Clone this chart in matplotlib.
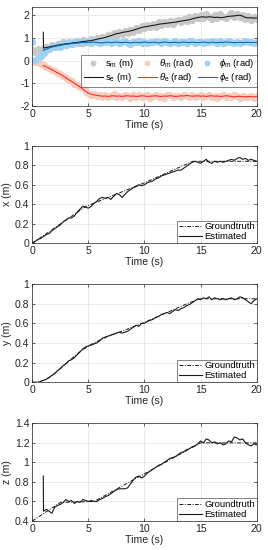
import numpy as np
import matplotlib
matplotlib.use("Agg")
import matplotlib.pyplot as plt
from matplotlib.ticker import FuncFormatter

plt.rcParams['font.family'] = ['Liberation Sans', 'DejaVu Sans']
plt.rcParams['mathtext.fontset'] = 'custom'
plt.rcParams['mathtext.rm'] = 'Liberation Sans'
plt.rcParams['mathtext.it'] = 'Liberation Sans:italic'

# ---------------- data ----------------
# measurement time grid (0..20 s, 0.25 s) and estimate time grid (spike at 0.98, then 1..20 s)
t_meas = np.arange(0, 20.001, 0.25)
t_est = np.r_[0.98, np.arange(1.0, 20.001, 0.25)]

s_m = [0.45, 0.38, 0.5, 0.42, 0.55,
       0.62, 0.52, 0.7, 0.6,
       0.75, 0.64, 0.8, 0.68,
       0.84, 0.72, 0.82, 0.88,
       0.78, 0.92, 0.86, 0.8,
       0.95, 0.86, 0.98, 0.9,
       1.05, 0.95, 1.12, 1.04,
       1.2, 1.1, 1.26, 1.16,
       1.32, 1.22, 1.36, 1.28,
       1.45, 1.35, 1.52, 1.44,
       1.58, 1.46, 1.6, 1.5,
       1.68, 1.56, 1.72, 1.62,
       1.76, 1.62, 1.74, 1.8,
       1.68, 1.85, 1.74, 1.9,
       1.8, 1.98, 1.86, 2.02,
       1.88, 2.05, 1.9, 1.84,
       2.0, 1.86, 2.04, 1.94,
       1.86, 2.02, 2.08, 1.94,
       2.06, 1.92, 2.0, 1.84,
       1.98, 1.8, 1.92, 1.82]

theta_m = [0.0, -0.05, -0.08, -0.14, -0.2,
           -0.3, -0.32, -0.42, -0.46,
           -0.56, -0.6, -0.7, -0.75,
           -0.86, -0.9, -1.02, -1.06,
           -1.18, -1.22, -1.36, -1.42,
           -1.5, -1.48, -1.58, -1.52,
           -1.62, -1.5, -1.6, -1.54,
           -1.48, -1.62, -1.55, -1.6,
           -1.5, -1.58, -1.64, -1.52,
           -1.6, -1.5, -1.62, -1.55,
           -1.52, -1.63, -1.56, -1.5,
           -1.6, -1.54, -1.64, -1.52,
           -1.5, -1.62, -1.58, -1.54,
           -1.6, -1.5, -1.56, -1.62,
           -1.52, -1.6, -1.55, -1.5,
           -1.62, -1.56, -1.52, -1.6,
           -1.54, -1.64, -1.56, -1.5,
           -1.6, -1.55, -1.62, -1.52,
           -1.58, -1.64, -1.54, -1.6,
           -1.62, -1.55, -1.66, -1.58]

phi_m = [0.82, 0.03, 0.12, 0.22, 0.35,
         0.48, 0.5, 0.6, 0.58,
         0.68, 0.62, 0.72, 0.7,
         0.78, 0.72, 0.8, 0.76,
         0.84, 0.76, 0.82, 0.86,
         0.78, 0.85, 0.8, 0.76,
         0.84, 0.8, 0.86, 0.76,
         0.82, 0.86, 0.76, 0.82,
         0.85, 0.78, 0.74, 0.84,
         0.8, 0.86, 0.78, 0.82,
         0.76, 0.84, 0.8, 0.86,
         0.82, 0.76, 0.85, 0.8,
         0.78, 0.84, 0.86, 0.76,
         0.82, 0.8, 0.76, 0.85,
         0.86, 0.78, 0.82, 0.8,
         0.76, 0.84, 0.8, 0.86,
         0.82, 0.78, 0.85, 0.76,
         0.8, 0.86, 0.82, 0.78,
         0.84, 0.76, 0.82, 0.86,
         0.8, 0.84, 0.78, 0.82]

s_e = [1.25,
       0.55, 0.58, 0.6, 0.63,
       0.65, 0.68, 0.7, 0.72,
       0.74, 0.75, 0.77, 0.79,
       0.8, 0.82, 0.84, 0.85,
       0.87, 0.88, 0.91, 0.94,
       0.97, 0.99, 1.02, 1.06,
       1.1, 1.14, 1.19, 1.2,
       1.24, 1.26, 1.28, 1.31,
       1.34, 1.38, 1.42, 1.46,
       1.49, 1.5, 1.53, 1.55,
       1.57, 1.6, 1.62, 1.63,
       1.65, 1.66, 1.68, 1.69,
       1.72, 1.74, 1.76, 1.78,
       1.8, 1.84, 1.87, 1.9,
       1.92, 1.93, 1.91, 1.93,
       1.92, 1.9, 1.91, 1.89,
       1.9, 1.93, 1.95, 1.96,
       1.97, 1.99, 2.0, 1.96,
       1.9, 1.88, 1.89, 1.87,
       1.88]

theta_e = [-0.22,
           -0.22, -0.28, -0.33, -0.4,
           -0.47, -0.54, -0.6, -0.68,
           -0.76, -0.84, -0.92, -1.0,
           -1.08, -1.16, -1.25, -1.36,
           -1.43, -1.48, -1.51, -1.53,
           -1.55, -1.57, -1.56, -1.58,
           -1.56, -1.55, -1.57, -1.56,
           -1.58, -1.56, -1.55, -1.57,
           -1.56, -1.58, -1.57, -1.55,
           -1.56, -1.58, -1.57, -1.56,
           -1.55, -1.57, -1.58, -1.56,
           -1.57, -1.55, -1.56, -1.58,
           -1.57, -1.55, -1.56, -1.54,
           -1.55, -1.57, -1.56, -1.55,
           -1.57, -1.56, -1.58, -1.56,
           -1.55, -1.57, -1.56, -1.58,
           -1.57, -1.55, -1.56, -1.58,
           -1.6, -1.58, -1.57, -1.59,
           -1.6, -1.58, -1.59, -1.6,
           -1.58]

phi_e = [0.45,
         0.45, 0.5, 0.55, 0.6,
         0.62, 0.65, 0.67, 0.7,
         0.72, 0.73, 0.75, 0.76,
         0.77, 0.78, 0.8, 0.79,
         0.81, 0.8, 0.82, 0.8,
         0.79, 0.78, 0.8, 0.81,
         0.79, 0.8, 0.82, 0.8,
         0.79, 0.81, 0.8, 0.78,
         0.8, 0.81, 0.79, 0.8,
         0.82, 0.8, 0.79, 0.81,
         0.8, 0.78, 0.8, 0.82,
         0.81, 0.79, 0.8, 0.81,
         0.79, 0.8, 0.82, 0.8,
         0.79, 0.81, 0.8, 0.79,
         0.8, 0.82, 0.8, 0.79,
         0.81, 0.8, 0.79, 0.81,
         0.8, 0.82, 0.81, 0.8,
         0.79, 0.8, 0.81, 0.79,
         0.8, 0.81, 0.79, 0.8,
         0.8]

# position: groundtruth polylines (knots) and estimates
t_gt_x = [0, 4.8, 10, 14.3, 20]
x_gt = [0, 0.38, 0.62, 0.84, 0.84]
x_est = [0.0, 0.02, 0.04, 0.05, 0.07,
         0.09, 0.1, 0.13, 0.15,
         0.17, 0.19, 0.22, 0.24,
         0.26, 0.26, 0.28, 0.32,
         0.35, 0.38, 0.37, 0.36,
         0.38, 0.41, 0.43, 0.46,
         0.47, 0.46, 0.47, 0.45,
         0.48, 0.51, 0.5, 0.47,
         0.5, 0.53, 0.55, 0.57,
         0.58, 0.6, 0.59, 0.6,
         0.62, 0.63, 0.64, 0.66,
         0.67, 0.69, 0.7, 0.71,
         0.72, 0.73, 0.74, 0.75,
         0.75, 0.77, 0.79, 0.81,
         0.83, 0.84, 0.83, 0.82,
         0.84, 0.86, 0.83, 0.82,
         0.84, 0.83, 0.84, 0.83,
         0.84, 0.85, 0.86, 0.85,
         0.87, 0.88, 0.86, 0.87,
         0.85, 0.86, 0.85, 0.84]

t_gt_y = [0, 0.5, 1, 1.5, 2, 3, 4, 5, 6, 7, 8, 10, 12, 14, 15, 20]
y_gt = [0, 0, 0.02, 0.05, 0.09, 0.19, 0.29, 0.37, 0.43, 0.48, 0.52, 0.61, 0.71, 0.81, 0.85, 0.85]
y_est = [0.0, 0.0, 0.0, 0.01, 0.02,
         0.03, 0.05, 0.07, 0.09,
         0.12, 0.14, 0.17, 0.19,
         0.22, 0.23, 0.25, 0.28,
         0.31, 0.34, 0.36, 0.37,
         0.38, 0.39, 0.4, 0.42,
         0.45, 0.46, 0.47, 0.48,
         0.49, 0.5, 0.51, 0.5,
         0.51, 0.52, 0.54, 0.56,
         0.58, 0.57, 0.6, 0.6,
         0.62, 0.63, 0.64, 0.66,
         0.67, 0.69, 0.7, 0.71,
         0.7, 0.72, 0.74, 0.73,
         0.75, 0.76, 0.78, 0.79,
         0.81, 0.83, 0.85, 0.84,
         0.86, 0.85, 0.87, 0.84,
         0.86, 0.85, 0.84, 0.85,
         0.84, 0.85, 0.86, 0.84,
         0.85, 0.87, 0.86, 0.84,
         0.82, 0.8, 0.83, 0.85]

t_gt_z = [0, 2.5, 5.5, 15, 20]
z_gt = [0.4, 0.59, 0.6, 1.2, 1.2]
z_est = [0.86,
         0.5, 0.52, 0.5, 0.48,
         0.54, 0.56, 0.57, 0.59,
         0.62, 0.6, 0.61, 0.58,
         0.6, 0.59, 0.62, 0.61,
         0.6, 0.61, 0.6, 0.6,
         0.62, 0.63, 0.65, 0.66,
         0.68, 0.7, 0.72, 0.73,
         0.73, 0.73, 0.74, 0.78,
         0.82, 0.85, 0.86, 0.84,
         0.86, 0.89, 0.91, 0.93,
         0.95, 0.97, 0.98, 1.0,
         1.02, 1.04, 1.05, 1.06,
         1.08, 1.1, 1.11, 1.13,
         1.14, 1.16, 1.17, 1.19,
         1.22, 1.2, 1.24, 1.23,
         1.2, 1.21, 1.19, 1.2,
         1.18, 1.19, 1.22, 1.21,
         1.26, 1.25, 1.23, 1.24,
         1.2, 1.18, 1.17, 1.19,
         1.18]

# ---------------- figure ----------------
fig = plt.figure(figsize=(2.68, 5.5), dpi=100)
FS = 7.6
LFS = 6.8
spine_c = '#262626'
grid_c = '#e6e6e6'

def style(ax, ylim, yticks):
    ax.set_xlim(0, 20)
    ax.set_ylim(*ylim)
    ax.set_xticks([0, 5, 10, 15, 20])
    ax.set_yticks(yticks)
    ax.yaxis.set_major_formatter(FuncFormatter(lambda v, p: '%g' % round(v, 3)))
    ax.grid(True, color=grid_c, lw=0.6)
    ax.set_axisbelow(True)
    ax.tick_params(direction='in', length=2, width=0.5, labelsize=FS, colors=spine_c, pad=2,
                   top=True, right=True)
    for s in ax.spines.values():
        s.set_linewidth(0.5)
        s.set_color(spine_c)
    ax.set_xlabel('Time (s)', fontsize=FS, labelpad=1, color=spine_c)

L = 0.1205
W = 0.8373
ax1 = fig.add_axes([L, 0.8073, W, 0.1795])
ax2 = fig.add_axes([L, 0.5576, W, 0.1775])
ax3 = fig.add_axes([L, 0.3049, W, 0.1787])
ax4 = fig.add_axes([L, 0.0527, W, 0.1776])

# panel 1
ms = 5.2
h_sm, = ax1.plot(t_meas, s_m, 'o', color='#c8c8c8', ms=ms, mec='none', label=r's$_\mathrm{m}$ (m)', zorder=2)
h_tm, = ax1.plot(t_meas, theta_m, 'o', color='#f6cdbd', ms=ms, mec='none', label=r'$\theta_\mathrm{m}$ (rad)', zorder=2)
h_pm, = ax1.plot(t_meas, phi_m, 'o', color='#9fd2f2', ms=ms, mec='none', label=r'$\phi_\mathrm{m}$ (rad)', zorder=2)
h_se, = ax1.plot(t_est, s_e, '-', color='#1a1a1a', lw=0.8, label=r's$_\mathrm{e}$ (m)', zorder=3)
h_te, = ax1.plot(t_est, theta_e, '-', color='#ff2a2a', lw=0.8, label=r'$\theta_\mathrm{e}$ (rad)', zorder=3)
h_pe, = ax1.plot(t_est, phi_e, '-', color='#0b6fae', lw=0.8, label=r'$\phi_\mathrm{e}$ (rad)', zorder=3)
style(ax1, (-2, 2.35), [-2, -1, 0, 1, 2])
hs = [h_sm, h_se, h_tm, h_te, h_pm, h_pe]
leg = ax1.legend(hs, [h.get_label() for h in hs], ncol=3, loc='upper right',
                 bbox_to_anchor=(1.0, 0.52), fontsize=LFS,
                 frameon=True, fancybox=False, borderaxespad=0, handlelength=2.0,
                 handletextpad=0.25, columnspacing=0.4, borderpad=0.25, labelspacing=0.15,
                 markerscale=0.8)
leg.get_frame().set_edgecolor(spine_c)
leg.get_frame().set_linewidth(0.5)

# panels 2-4
def pos_panel(ax, tg, gt, te, est, ylim, yticks, ylabel):
    ax.plot(tg, gt, color='#1a1a1a', lw=0.7, dashes=(4, 1.5, 1, 1.5), label='Groundtruth', zorder=3)
    ax.plot(te, est, '-', color='#1a1a1a', lw=0.8, label='Estimated', zorder=3)
    style(ax, ylim, yticks)
    ax.set_ylabel(ylabel, fontsize=FS, labelpad=2, color=spine_c)
    lg = ax.legend(loc='lower right', fontsize=LFS, frameon=True, fancybox=False, borderaxespad=0,
                   handlelength=2.5, handletextpad=0.2, borderpad=0.2, labelspacing=0.1)
    lg.get_frame().set_edgecolor(spine_c)
    lg.get_frame().set_linewidth(0.5)

pos_panel(ax2, t_gt_x, x_gt, t_meas, x_est, (0, 1), [0, 0.2, 0.4, 0.6, 0.8, 1], 'x (m)')
pos_panel(ax3, t_gt_y, y_gt, t_meas, y_est, (0, 1), [0, 0.2, 0.4, 0.6, 0.8, 1], 'y (m)')
pos_panel(ax4, t_gt_z, z_gt, t_est, z_est, (0.4, 1.4), [0.4, 0.6, 0.8, 1, 1.2, 1.4], 'z (m)')

fig.savefig('out.png', dpi=100)
